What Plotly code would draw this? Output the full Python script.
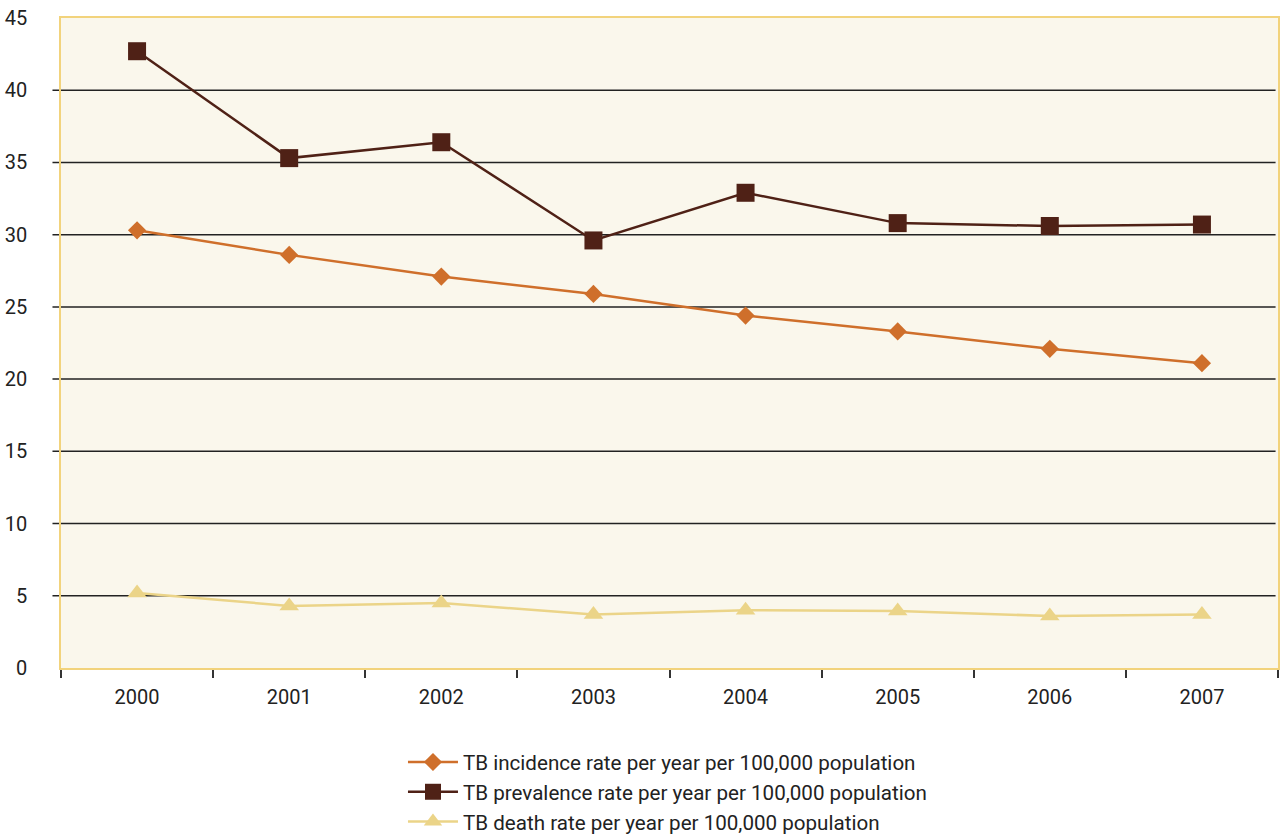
import plotly.graph_objects as go

years = ["2000", "2001", "2002", "2003", "2004", "2005", "2006", "2007"]
incidence = [30.3, 28.6, 27.1, 25.9, 24.4, 23.3, 22.1, 21.1]
prevalence = [42.7, 35.3, 36.4, 29.6, 32.9, 30.8, 30.6, 30.7]
death = [5.2, 4.3, 4.5, 3.7, 4.0, 3.95, 3.6, 3.7]
y_ticks = [0, 5, 10, 15, 20, 25, 30, 35, 40, 45]
grid_vals = [5, 10, 15, 20, 25, 30, 35, 40]

names = [
    "TB incidence rate per year per 100,000 population",
    "TB prevalence rate per year per 100,000 population",
    "TB death rate per year per 100,000 population",
]
colors = ["#cf6f2b", "#4f2116", "#ebd488"]
symbols = ["diamond", "square", "triangle-up"]
sizes = [14, 18, 17]
series = [incidence, prevalence, death]

fig = go.Figure()
for nm, vals, c, s, sz in zip(names, series, colors, symbols, sizes):
    fig.add_trace(go.Scatter(
        x=years, y=vals, name=nm, mode="lines+markers",
        line=dict(color=c, width=2.5),
        marker=dict(symbol=s, size=sz, color=c, line=dict(width=0)),
    ))

for g in grid_vals:
    fig.add_shape(type="line", xref="paper", yref="y", x0=-0.007, x1=0.998, y0=g, y1=g,
                  line=dict(color="#222222", width=1.5), layer="below")

fig.update_layout(
    width=1288, height=835,
    margin=dict(l=61, r=10, t=18, b=167, autoexpand=False),
    paper_bgcolor="white",
    plot_bgcolor="#faf7ec",
    font=dict(family="Roboto", size=20, color="#222222"),
    showlegend=True,
    legend=dict(orientation="v", x=0.281, y=-0.114, xanchor="left", yanchor="top",
                bgcolor="rgba(0,0,0,0)", font=dict(size=20.6), itemwidth=50,
                tracegroupgap=0),
)
fig.update_xaxes(
    type="category", showgrid=False, showline=True, linecolor="#f2d37c", linewidth=1.5,
    mirror=True, ticks="outside", tickson="boundaries", ticklen=8, tickcolor="#333333",
    tickwidth=1.5, range=[-0.5, 7.5], tickfont=dict(size=20), ticklabelstandoff=10,
    tickangle=0,
)
fig.update_yaxes(
    range=[0, 45], tickvals=y_ticks, showgrid=False, zeroline=False, showline=True,
    linecolor="#f2d37c", linewidth=1.5, mirror=True, ticks="", ticklabelstandoff=28,
    tickfont=dict(size=20),
)

fig.write_html("out.html")
